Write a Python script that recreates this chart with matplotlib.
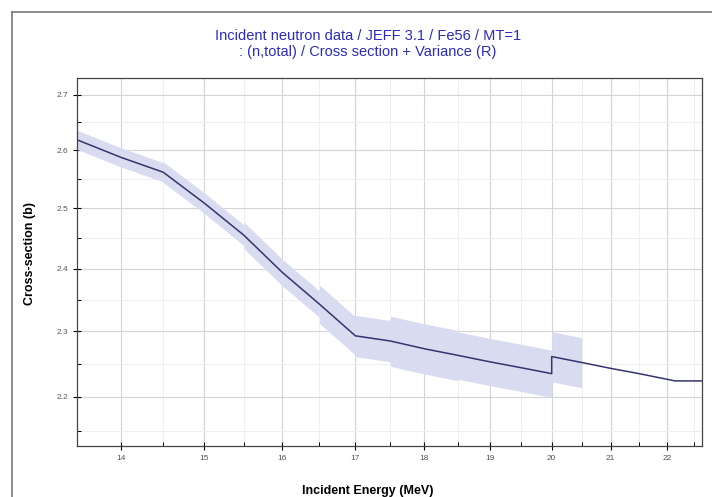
import matplotlib.pyplot as plt
from matplotlib.lines import Line2D
from matplotlib.ticker import NullFormatter
import numpy as np

plt.rcParams['font.family'] = ['Liberation Sans', 'DejaVu Sans']

# cross section (jump at 20 MeV)
energy = [13.5, 14.0, 14.5, 15.0, 15.5, 16.0, 16.5, 17.0, 17.5, 18.0, 18.5, 19.0, 19.5, 20.0,
          20.0, 20.5, 21.0, 21.5, 22.15, 22.65]
xs = [2.619, 2.588, 2.562, 2.509, 2.455, 2.394, 2.343, 2.293, 2.285, 2.273, 2.263, 2.253, 2.244, 2.235,
      2.261, 2.252, 2.243, 2.235, 2.224, 2.224]

# variance groups: (E low, E high, relative std dev)
grp_lo = [13.5, 14.5, 15.5, 16.5, 17.0, 17.5, 18.5, 20.0]
grp_hi = [14.5, 15.5, 16.5, 17.0, 17.5, 18.5, 20.0, 20.5]
grp_rel = [0.0065, 0.007, 0.009, 0.013, 0.014, 0.017, 0.016, 0.017]

xticks = [14, 15, 16, 17, 18, 19, 20, 21, 22]
yticks = [2.2, 2.3, 2.4, 2.5, 2.6, 2.7]

fig = plt.figure(figsize=(7.12, 4.97), dpi=100)
ax = fig.add_axes([0.108, 0.1026, 0.878, 0.7405])

e = np.array(energy)
v = np.array(xs)
for i in range(len(grp_lo)):
    lo, hi, r = grp_lo[i], grp_hi[i], grp_rel[i]
    # points of this group (right branch after the jump for the last group)
    if lo == 20.0:
        idx = [j for j in range(14, len(e)) if e[j] <= hi]
    else:
        idx = [j for j in range(14) if lo <= e[j] <= hi]
    ax.fill_between(e[idx], v[idx] * (1 - r), v[idx] * (1 + r), color="#d9dbf0", lw=0)

ax.plot(energy, xs, color="#34346e", lw=1.1)

ax.set_xscale("log")
ax.set_yscale("log")
ax.set_xlim(13.51, 22.65)
ax.set_ylim(2.128, 2.731)

ax.set_xticks(xticks)
ax.set_xticklabels([str(t) for t in xticks])
ax.set_xticks([t + 0.5 for t in range(13, 23)], minor=True)
ax.xaxis.set_minor_formatter(NullFormatter())
ax.set_yticks(yticks)
ax.set_yticklabels([str(t) for t in yticks])
ax.set_yticks([2.15, 2.25, 2.35, 2.45, 2.55, 2.65], minor=True)
ax.yaxis.set_minor_formatter(NullFormatter())

ax.tick_params(which="major", direction="inout", length=6, width=0.8, labelsize=6, labelcolor="#555555")
ax.tick_params(which="minor", direction="in", length=3, width=0.7)
ax.grid(which="major", color="#d4d4d4", lw=0.8)
ax.grid(which="minor", color="#eeeeee", lw=0.7)
ax.set_axisbelow(True)
for s in ax.spines.values():
    s.set_color("#444444")
    s.set_linewidth(0.9)

ax.set_xlabel("Incident Energy (MeV)", fontsize=9, fontweight="bold")
ax.xaxis.set_label_coords(0.466, -0.105)
ax.set_ylabel("Cross-section (b)", fontsize=9, fontweight="bold")
ax.yaxis.set_label_coords(-0.066, 0.524)

fig.text(0.517, 0.912, "Incident neutron data / JEFF 3.1 / Fe56 / MT=1\n: (n,total) / Cross section + Variance (R)",
         ha="center", va="center", fontsize=10.5, color="#2b2bc0", linespacing=1.2)

# outer panel frame
fig.add_artist(Line2D([0.017, 0.017], [0.0, 0.976], color="#777777", lw=1.2))
fig.add_artist(Line2D([0.017, 1.0], [0.976, 0.976], color="#777777", lw=1.2))

plt.savefig("out.png", dpi=100)
